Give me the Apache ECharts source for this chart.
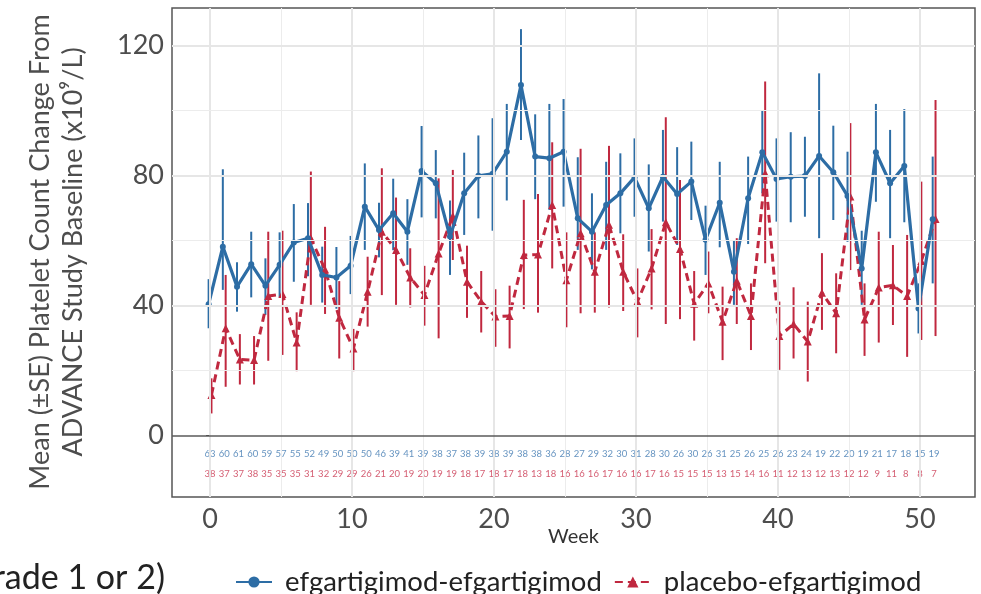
<!DOCTYPE html>
<html>
<head>
<meta charset="utf-8">
<script src="https://cdn.jsdelivr.net/npm/echarts@6/dist/echarts.min.js"></script>
<style>
html,body{margin:0;padding:0;background:#fff;}
#c{width:981px;height:594px;}
</style>
</head>
<body>
<div id="c"></div>
<script>
// ---- data ----
const weeks = [0,1,2,3,4,5,6,7,8,9,10,11,12,13,14,15,16,17,18,19,20,21,22,23,24,25,26,27,28,29,30,31,32,33,34,35,36,37,38,39,40,41,42,43,44,45,46,47,48,49,50,51];
const efgMean = [40.4,58.1,45.8,52.7,46.1,52.5,59.4,60.7,49.4,48.6,52.2,70.4,63.2,68.4,62.7,81.4,77.6,61.2,74.5,79.9,80.5,87.3,107.8,85.8,85.3,87.3,66.8,62.7,70.9,74.5,79.4,69.9,79.6,74.3,78.1,60.2,71.6,50.4,73.0,87.1,78.9,79.6,79.8,86.0,81.0,73.7,51.4,87.1,77.6,82.9,39.1,66.5];
const efgHi = [48.1,81.9,53.3,62.7,54.5,62.5,71.2,71.5,58.1,58.0,61.4,83.7,71.6,79.0,72.7,95.2,87.8,72.3,87.0,92.3,97.6,102.0,125.0,98.8,102.0,103.5,85.6,74.5,84.2,86.8,91.4,83.4,94.0,88.7,90.4,70.7,84.2,59.9,85.8,99.9,91.4,93.3,91.9,111.4,95.3,87.3,63.0,102.0,94.0,100.4,46.8,85.8];
const efgLo = [33.0,44.8,38.1,42.5,37.1,42.5,47.3,49.0,40.9,39.0,43.5,57.1,54.8,57.0,52.5,67.1,66.8,49.4,61.7,66.8,63.0,72.3,90.9,72.7,69.4,70.4,57.1,51.1,57.1,62.2,67.3,56.6,65.8,58.6,66.3,49.4,57.9,40.2,58.9,74.5,65.8,65.6,67.3,60.7,66.3,59.6,40.2,71.9,60.7,65.6,31.4,46.8];
const pboMean = [12.5,33.0,23.4,23.2,42.9,43.5,28.6,60.7,51.1,36.2,26.8,44.2,62.7,57.1,48.6,43.2,56.0,67.5,47.3,41.2,36.6,36.8,55.5,55.7,70.9,47.8,62.2,50.4,64.8,50.4,41.2,51.4,65.6,57.4,40.5,46.8,35.0,47.6,36.8,80.7,30.6,34.3,28.9,43.9,37.6,73.5,35.7,45.5,46.2,42.9,53.7,66.6];
const pboHi = [17.6,49.4,31.2,30.6,62.7,63.0,37.9,81.2,64.2,47.5,32.8,55.0,82.2,73.2,57.6,52.2,79.1,81.7,58.4,50.6,45.0,46.1,72.5,74.3,90.2,62.5,88.2,62.5,89.1,61.9,51.4,63.5,97.9,78.6,50.6,56.6,45.8,60.7,46.8,108.9,41.2,45.6,41.2,56.1,49.9,96.1,46.8,62.7,58.6,61.7,78.1,103.2];
const pboLo = [6.8,15.0,15.7,15.7,23.0,24.8,19.8,40.2,37.4,23.7,19.8,33.5,43.2,40.2,39.4,33.8,29.9,54.0,36.2,31.7,27.3,26.8,38.9,37.8,51.4,33.3,37.6,37.8,39.4,38.3,30.2,38.8,34.3,35.8,29.2,37.6,23.2,34.3,26.3,53.0,20.2,23.7,16.6,32.5,25.3,50.9,24.5,28.6,34.0,24.2,29.4,30.6];
const efgN = [63,60,61,60,59,57,55,52,49,50,50,50,46,39,41,39,38,37,38,39,38,39,38,38,36,28,27,29,32,30,31,28,30,26,30,26,31,25,26,25,26,23,24,19,22,20,19,21,17,18,15,19];
const pboN = [38,37,37,38,35,35,35,31,32,29,29,26,21,20,19,20,19,19,18,17,18,17,18,13,18,16,16,16,17,16,16,17,16,15,15,15,13,15,14,16,11,12,13,12,13,12,12,9,11,8,8,7];
const xTickLabels = [0,10,20,30,40,50];
const xMinorGrid = [5,15,25,35,45];
const yTickLabels = [0,40,80,120];
const yMinorGrid = [20,60,100];
const seriesNames = ['efgartigimod-efgartigimod','placebo-efgartigimod'];

// ---- style ----
const BLUE = '#2d6da5';
const RED = '#c0283f';
const FONT = 'Lato, "Open Sans", sans-serif';
const DODGE = 0.1;
const ROW_EFG = -5.7, ROW_PBO = -11.8;

const efgLine = weeks.map((w,i)=>[w-DODGE, efgMean[i]]);
const pboLine = weeks.map((w,i)=>[w+DODGE, pboMean[i]]);
const efgErr = weeks.map((w,i)=>[w-DODGE, efgLo[i], efgHi[i]]);
const pboErr = weeks.map((w,i)=>[w+DODGE, pboLo[i], pboHi[i]]);
const efgRow = weeks.map((w,i)=>[w, ROW_EFG, efgN[i]]);
const pboRow = weeks.map((w,i)=>[w, ROW_PBO, pboN[i]]);

function errRender(color){
  return function(params, api){
    const x = api.value(0), lo = api.value(1), hi = api.value(2);
    const p1 = api.coord([x, lo]), p2 = api.coord([x, hi]);
    return {type:'line', shape:{x1:p1[0],y1:p1[1],x2:p2[0],y2:p2[1]}, style:{stroke:color, lineWidth:2}};
  };
}

const gridMajor = {color:'#e6e6e6', width:2, type:'solid'};
const gridMinor = {color:'#ececec', width:1, type:'solid'};
const markData = []
  .concat(xTickLabels.map(v=>({xAxis:v, lineStyle:gridMajor})))
  .concat(xMinorGrid.map(v=>({xAxis:v, lineStyle:gridMinor})))
  .concat(yTickLabels.filter(v=>v!==0).map(v=>({yAxis:v, lineStyle:gridMajor})))
  .concat(yMinorGrid.map(v=>({yAxis:v, lineStyle:gridMinor})))
  .concat([{yAxis:0, lineStyle:{color:'#5a5a5a', width:1.6, type:'solid'}}]);

const chart = echarts.init(document.getElementById('c'), null, {renderer:'canvas'});
chart.setOption({
  animation:false,
  backgroundColor:'#fff',
  textStyle:{fontFamily:FONT},
  grid:{left:172, right:6, top:8, bottom:97, show:true, borderColor:'#555', borderWidth:1.5, containLabel:false},
  xAxis:{type:'value', min:-2.68, max:53.88,
    name:'Week', nameLocation:'middle', nameGap:30, nameMoveOverlap:false, nameTextStyle:{fontSize:20, color:'#333', fontFamily:FONT},
    axisLine:{show:false}, splitLine:{show:false},
    axisTick:{show:true, customValues:xTickLabels, length:4, lineStyle:{color:'#333'}},
    axisLabel:{customValues:xTickLabels, fontSize:27, color:'#4d4d4d', margin:9, fontFamily:FONT}},
  yAxis:{type:'value', min:-18.9, max:131.5,
    axisLine:{show:false}, splitLine:{show:false},
    axisTick:{show:true, customValues:yTickLabels, length:4, lineStyle:{color:'#333'}},
    axisLabel:{customValues:yTickLabels, fontSize:27, color:'#4d4d4d', margin:8, fontFamily:FONT}},
  legend:{data:seriesNames, left:230, top:563, itemWidth:36, itemHeight:14, itemGap:12,
    textStyle:{fontSize:27.5, color:'#222', fontFamily:FONT, padding:[0,0,0,8]}},
  graphic:[
    {type:'text', x:40, y:252, rotation:Math.PI/2, style:{text:'Mean (±SE) Platelet Count Change From', fontSize:27, fill:'#4d4d4d', fontFamily:FONT, textAlign:'center', textVerticalAlign:'middle'}},
    {type:'text', x:73, y:252, rotation:Math.PI/2, style:{text:'ADVANCE Study Baseline (x10⁹/L)', fontSize:27, fill:'#4d4d4d', fontFamily:FONT, textAlign:'center', textVerticalAlign:'middle'}},
    {type:'text', x:165, y:578, style:{text:'(Grade 1 or 2)', fontSize:34, fill:'#222', fontFamily:FONT, textAlign:'right', textVerticalAlign:'middle'}}
  ],
  series:[
    {name:'_grid', type:'line', data:[], silent:true, z:0,
      markLine:{silent:true, symbol:['none','none'], label:{show:false}, data:markData, animation:false}},
    {name:seriesNames[0]+'_err', type:'custom', renderItem:errRender(BLUE), data:efgErr, encode:{x:0,y:[1,2]}, z:2, silent:true},
    {name:seriesNames[1]+'_err', type:'custom', renderItem:errRender(RED), data:pboErr, encode:{x:0,y:[1,2]}, z:2, silent:true},
    {name:seriesNames[1], type:'line', data:pboLine, color:RED, symbol:'triangle', symbolSize:8,
      lineStyle:{width:3, type:[8,5], color:RED}, itemStyle:{color:RED}, z:3},
    {name:seriesNames[0], type:'line', data:efgLine, color:BLUE, symbol:'circle', symbolSize:6,
      lineStyle:{width:3.2, color:BLUE}, itemStyle:{color:BLUE}, z:4},
    {name:'efgN', type:'scatter', data:efgRow, symbolSize:0, silent:true,
      label:{show:true, position:'inside', formatter:p=>String(p.value[2]), fontSize:9.5, color:'#3f78b0', fontFamily:FONT}},
    {name:'pboN', type:'scatter', data:pboRow, symbolSize:0, silent:true,
      label:{show:true, position:'inside', formatter:p=>String(p.value[2]), fontSize:9.5, color:'#c9354f', fontFamily:FONT}}
  ]
});
</script>
</body>
</html>
